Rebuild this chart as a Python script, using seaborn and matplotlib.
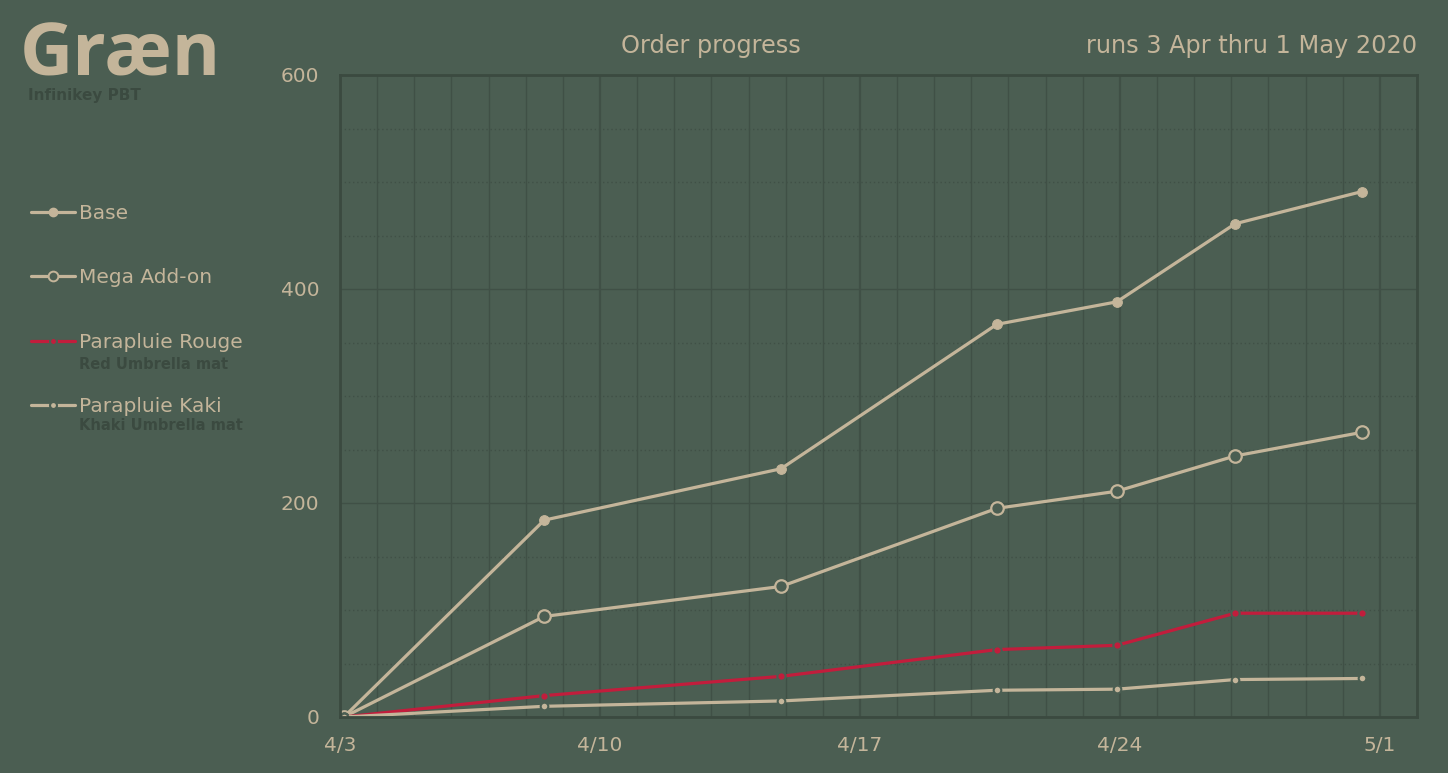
import pandas as pd
import matplotlib.pyplot as plt
import matplotlib.dates as mdates
from matplotlib.ticker import MultipleLocator, FuncFormatter
from matplotlib.lines import Line2D
import seaborn as sns

# %% data
dates = pd.to_datetime([
    "2020-04-03 02:30", "2020-04-08 12:00", "2020-04-14 21:00", "2020-04-20 16:30",
    "2020-04-23 22:00", "2020-04-27 02:30", "2020-04-30 12:15",
])
base = [0, 184, 232, 367, 388, 461, 491]
mega = [0, 94, 122, 195, 211, 244, 266]
rouge = [0, 20, 38, 63, 67, 97, 97]
kaki = [0, 10, 15, 25, 26, 35, 36]

series_names = ["Base", "Mega Add-on", "Parapluie Rouge", "Parapluie Kaki"]
series_sub = ["", "", "Red Umbrella mat", "Khaki Umbrella mat"]

df = pd.DataFrame({"date": dates, "Base": base, "Mega Add-on": mega,
                   "Parapluie Rouge": rouge, "Parapluie Kaki": kaki})

# %% style
bg = "#4b5e52"
tan = "#c4b59a"
red = "#c21d3c"
grid = "#405046"
dark = "#3b4a40"

sns.set_style("white")
plt.rcParams["font.family"] = ["DejaVu Sans"]

fig = plt.figure(figsize=(14.48, 7.73), dpi=100, facecolor=bg)
ax = fig.add_axes([340 / 1448, 1 - 717 / 773, (1417 - 340) / 1448, (717 - 75) / 773])
ax.set_facecolor(bg)

styles = {
    "Base": dict(color=tan, marker="o", markersize=7, markerfacecolor=tan, markeredgecolor=tan),
    "Mega Add-on": dict(color=tan, marker="o", markersize=9, markerfacecolor=bg,
                        markeredgecolor=tan, markeredgewidth=1.6),
    "Parapluie Rouge": dict(color=red, marker="o", markersize=6, markerfacecolor=red,
                            markeredgecolor=bg, markeredgewidth=1.5),
    "Parapluie Kaki": dict(color=tan, marker="o", markersize=5.5, markerfacecolor=tan,
                           markeredgecolor=bg, markeredgewidth=1.5),
}

for name in series_names:
    sns.lineplot(data=df, x="date", y=name, ax=ax, linewidth=2.3, legend=False, **styles[name])

ax.set_xlim(pd.Timestamp("2020-04-03"), pd.Timestamp("2020-05-02"))
ax.set_ylim(0, 600)

ax.xaxis.set_major_locator(mdates.WeekdayLocator(byweekday=mdates.FR))
ax.xaxis.set_minor_locator(mdates.DayLocator())
ax.xaxis.set_major_formatter(FuncFormatter(lambda v, p: f"{mdates.num2date(v).month}/{mdates.num2date(v).day}"))
ax.yaxis.set_major_locator(MultipleLocator(200))
ax.yaxis.set_minor_locator(MultipleLocator(50))

ax.grid(True, which="major", axis="x", color=grid, linewidth=1.6)
ax.grid(True, which="minor", axis="x", color=grid, linewidth=1.0)
ax.grid(True, which="major", axis="y", color=grid, linewidth=1.0)
ax.grid(True, which="minor", axis="y", color=grid, linewidth=1.0, linestyle=(0, (1, 2)))
ax.set_axisbelow(True)

ax.tick_params(which="both", length=0, colors=tan, labelsize=14.5)
ax.tick_params(axis="y", pad=15)
ax.tick_params(axis="x", pad=14)
ax.set_xlabel("")
ax.set_ylabel("")
for s in ax.spines.values():
    s.set_visible(True)
    s.set_color(dark)
    s.set_linewidth(2)

# %% text
fig.text(20 / 1448, 1 - 75 / 773, "Græn", fontsize=53, fontweight="bold", color=tan,
         va="baseline", family="Open Sans")
fig.text(28 / 1448, 1 - 100 / 773, "Infinikey PBT", fontsize=11, fontweight="bold", color=dark, va="baseline")
fig.text(711 / 1448, 1 - 46 / 773, "Order progress", fontsize=17.3, color=tan, ha="center", va="center")
fig.text(1417 / 1448, 1 - 46 / 773, "runs 3 Apr thru 1 May 2020", fontsize=17.3, color=tan, ha="right", va="center")

# %% legend
leg_styles = {
    "Base": dict(color=tan, marker="o", markersize=6, markerfacecolor=tan, markeredgecolor=tan),
    "Mega Add-on": dict(color=tan, marker="o", markersize=7, markerfacecolor=bg,
                        markeredgecolor=tan, markeredgewidth=1.4),
    "Parapluie Rouge": dict(color=red, marker="o", markersize=5, markerfacecolor=red,
                            markeredgecolor=bg, markeredgewidth=1.5),
    "Parapluie Kaki": dict(color=tan, marker="o", markersize=5, markerfacecolor=tan,
                           markeredgecolor=bg, markeredgewidth=1.5),
}
handles = [Line2D([0], [0], linewidth=2.3, **leg_styles[n]) for n in series_names]
leg = fig.legend(handles, series_names, loc="upper left", bbox_to_anchor=(31 / 1448, 1 - 204 / 773),
                 frameon=False, fontsize=14.5, labelcolor=tan, labelspacing=2.25,
                 handlelength=2.2, handletextpad=0.2, borderaxespad=0, borderpad=0)
ys = [0, 0, 364, 426]
for sub, y in zip(series_sub, ys):
    if sub:
        fig.text(79 / 1448, 1 - y / 773, sub, fontsize=10.5, fontweight="bold", color=dark, va="center")

fig.savefig("out.png", dpi=100, facecolor=bg)
